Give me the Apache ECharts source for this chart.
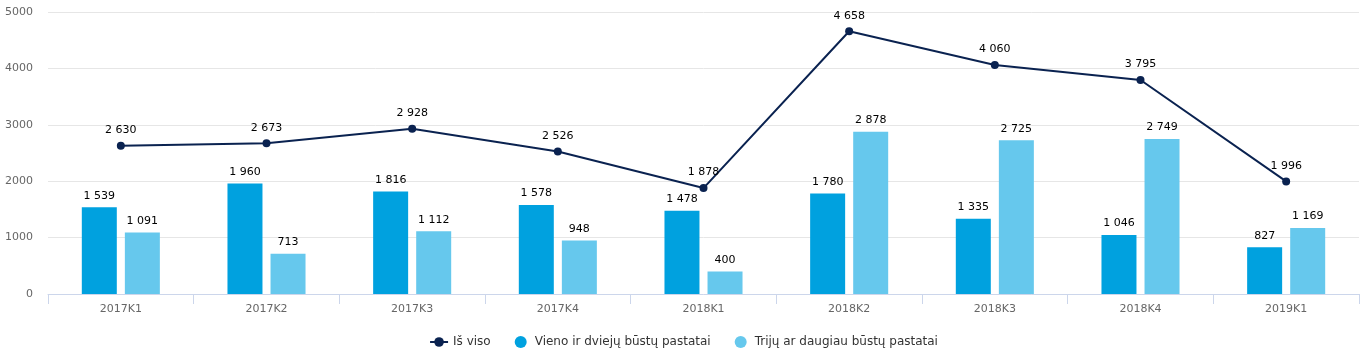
<!DOCTYPE html>
<html>
<head>
<meta charset="utf-8">
<script src="https://cdn.jsdelivr.net/npm/echarts@6/dist/echarts.min.js"></script>
<style>
  html, body { margin: 0; padding: 0; background: #fff; }
  #main { width: 1367px; height: 353px; }
</style>
</head>
<body>
<div id="main"></div>
<script>
var categories = ['2017K1', '2017K2', '2017K3', '2017K4', '2018K1', '2018K2', '2018K3', '2018K4', '2019K1'];
var isViso = [2630, 2673, 2928, 2526, 1878, 4658, 4060, 3795, 1996];
var vienoDvieju = [1539, 1960, 1816, 1578, 1478, 1780, 1335, 1046, 827];
var trijuDaugiau = [1091, 713, 1112, 948, 400, 2878, 2725, 2749, 1169];

// tarpas kaip tūkstančių skyriklis
function fmt(p) {
  return String(p.value).replace(/\B(?=(\d{3})+(?!\d))/g, ' ');
}

var myChart = echarts.init(document.getElementById('main'));

var labelStyle = {
  show: true,
  position: 'top',
  color: '#000',
  fontFamily: 'DejaVu Sans',
  fontSize: 11,
  distance: 6,
  formatter: fmt
};

var option = {
  animation: false,
  textStyle: { fontFamily: 'DejaVu Sans' },
  grid: { left: 48, right: 8, top: 12, bottom: 59 },
  legend: {
    bottom: 0,
    itemGap: 24,
    itemWidth: 18,
    itemHeight: 12,
    textStyle: { color: '#333', fontSize: 12, fontFamily: 'DejaVu Sans' },
    data: [
      { name: 'Iš viso' },
      { name: 'Vieno ir dviejų būstų pastatai', icon: 'circle' },
      { name: 'Trijų ar daugiau būstų pastatai', icon: 'circle' }
    ]
  },
  xAxis: {
    type: 'category',
    data: categories,
    axisLine: { lineStyle: { color: '#ccd6eb' } },
    axisTick: { show: true, length: 10, lineStyle: { color: '#ccd6eb' } },
    axisLabel: { color: '#666', fontSize: 11, margin: 10 }
  },
  yAxis: {
    type: 'value',
    min: 0,
    max: 5000,
    interval: 1000,
    axisLine: { show: false },
    axisTick: { show: false },
    axisLabel: {
      color: '#666',
      fontSize: 11,
      margin: 15,
      formatter: function (v) { return String(v); }
    },
    splitLine: { lineStyle: { color: '#e6e6e6' } }
  },
  series: [
    {
      name: 'Vieno ir dviejų būstų pastatai',
      type: 'bar',
      data: vienoDvieju,
      barWidth: 35,
      barGap: '23%',
      itemStyle: { color: '#00a1df' },
      label: labelStyle
    },
    {
      name: 'Trijų ar daugiau būstų pastatai',
      type: 'bar',
      data: trijuDaugiau,
      barWidth: 35,
      itemStyle: { color: '#66c8ed' },
      label: labelStyle
    },
    {
      name: 'Iš viso',
      type: 'line',
      data: isViso,
      symbol: 'circle',
      symbolSize: 8,
      lineStyle: { color: '#0a2250', width: 2 },
      itemStyle: { color: '#0a2250' },
      label: labelStyle,
      z: 5
    }
  ]
};

myChart.setOption(option);
</script>
</body>
</html>
